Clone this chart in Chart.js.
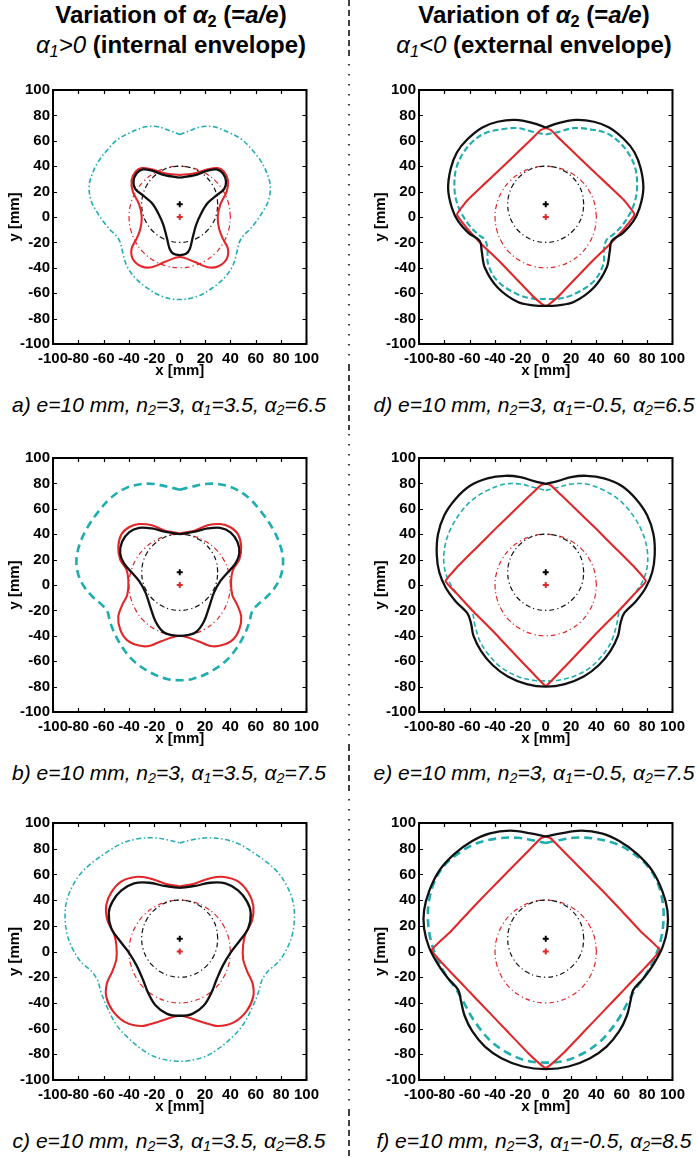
<!DOCTYPE html>
<html>
<head>
<meta charset="utf-8">
<script src="https://cdn.jsdelivr.net/npm/chart.js@4.4.1/dist/chart.umd.min.js"></script>
<style>
  body { margin: 0; background: #fff; }
  #wrap { position: relative; width: 697px; height: 1158px; overflow: hidden; background: #fff; }
  canvas { position: absolute; }
  .title { position: absolute; text-align: center; font: bold 24px "Liberation Sans", Arial, sans-serif; line-height: 30px; color: #000; }
  .title .lt { font-weight: normal; }
  .cap { position: absolute; text-align: center; font: italic 21px "Liberation Sans", Arial, sans-serif; line-height: 24px; color: #000; white-space: nowrap; }
  sub { font-size: 0.68em; vertical-align: -0.22em; line-height: 0; }
  svg { position: absolute; left: 0; top: 0; }
</style>
</head>
<body>
<div id="wrap">
  <div class="title" style="left:0;width:342px;top:0">
    <div>Variation of <i>α</i><sub>2</sub> (=<i>a/e</i>)</div>
    <div><i class="lt">α<sub>1</sub>&gt;0</i> (internal envelope)</div>
  </div>
  <div class="title" style="left:366px;width:336px;top:0">
    <div>Variation of <i>α</i><sub>2</sub> (=<i>a/e</i>)</div>
    <div><i class="lt">α<sub>1</sub>&lt;0</i> (external envelope)</div>
  </div>

  <div class="cap" style="left:0;width:338px;top:393px">a) e=10 mm, n<sub>2</sub>=3, α<sub>1</sub>=3.5, α<sub>2</sub>=6.5</div>
  <div class="cap" style="left:0;width:338px;top:761px">b) e=10 mm, n<sub>2</sub>=3, α<sub>1</sub>=3.5, α<sub>2</sub>=7.5</div>
  <div class="cap" style="left:0;width:338px;top:1129px">c) e=10 mm, n<sub>2</sub>=3, α<sub>1</sub>=3.5, α<sub>2</sub>=8.5</div>
  <div class="cap" style="left:371px;width:326px;top:393px">d) e=10 mm, n<sub>2</sub>=3, α<sub>1</sub>=-0.5, α<sub>2</sub>=6.5</div>
  <div class="cap" style="left:371px;width:326px;top:761px">e) e=10 mm, n<sub>2</sub>=3, α<sub>1</sub>=-0.5, α<sub>2</sub>=7.5</div>
  <div class="cap" style="left:371px;width:326px;top:1129px">f) e=10 mm, n<sub>2</sub>=3, α<sub>1</sub>=-0.5, α<sub>2</sub>=8.5</div>

  <svg width="697" height="1158">
    <g stroke="#000" stroke-width="1.5">
      <line x1="349" y1="0" x2="349" y2="60" stroke-dasharray="6 4"/>
      <line x1="349" y1="64" x2="349" y2="365" stroke-dasharray="1.5 8.5"/>
      <line x1="349" y1="365" x2="349" y2="430" stroke-dasharray="6 4"/>
      <line x1="349" y1="434" x2="349" y2="745" stroke-dasharray="1.5 8.5"/>
      <line x1="349" y1="745" x2="349" y2="795" stroke-dasharray="6 4"/>
      <line x1="349" y1="799" x2="349" y2="1110" stroke-dasharray="1.5 8.5"/>
      <line x1="349" y1="1110" x2="349" y2="1158" stroke-dasharray="6 4"/>
    </g>
  </svg>

  <canvas id="pa"></canvas>
  <canvas id="pb"></canvas>
  <canvas id="pc"></canvas>
  <canvas id="pd"></canvas>
  <canvas id="pe"></canvas>
  <canvas id="pf"></canvas>
</div>

<script>
// tick values on both axes [mm]
const tickValues = [-100, -80, -60, -40, -20, 0, 20, 40, 60, 80, 100];

// centres: wheel centre (0,10) and reference centre (0,0)
const blackCentre = [[0, 10]];
const redCentre = [[0, 0]];

// dash-dot circles, same in all panels
const redCircle = [[40,0],[38.6,10.4],[34.6,20],[28.3,28.3],[20,34.6],[10.4,38.6],[0,40],[-10.4,38.6],[-20,34.6],[-28.3,28.3],[-34.6,20],[-38.6,10.4],[-40,0],[-38.6,-10.4],[-34.6,-20],[-28.3,-28.3],[-20,-34.6],[-10.4,-38.6],[0,-40],[10.4,-38.6],[20,-34.6],[28.3,-28.3],[34.6,-20],[38.6,-10.4],[40,0]];
const blackCircle = [[30,10],[29,17.8],[26,25],[21.2,31.2],[15,36],[7.8,39],[0,40],[-7.8,39],[-15,36],[-21.2,31.2],[-26,25],[-29,17.8],[-30,10],[-29,2.2],[-26,-5],[-21.2,-11.2],[-15,-16],[-7.8,-19],[0,-20],[7.8,-19],[15,-16],[21.2,-11.2],[26,-5],[29,2.2],[30,10]];

// a) alpha1=3.5, alpha2=6.5
const aCyan = [[0,65],[8,68],[17,71],[27,71],[40,66],[49,61],[57,53],[64,44],[69,34],[71.5,24],[70,13],[66,5],[60,-4],[55,-10],[50,-15],[47,-20],[45,-28],[42,-38],[36,-47],[27,-55],[14,-62.5],[0,-65],[-14,-62.5],[-27,-55],[-36,-47],[-42,-38],[-45,-28],[-47,-20],[-50,-15],[-55,-10],[-60,-4],[-66,5],[-70,13],[-71.5,24],[-69,34],[-64,44],[-57,53],[-49,61],[-40,66],[-27,71],[-17,71],[-8,68],[0,65]];
const aRed = [[0,33],[12,34.5],[22,37.5],[30,38.5],[35,35.5],[38,29],[37,20],[32,10],[30,0],[31,-9],[34,-17],[38,-25],[37,-33],[30,-39],[22,-39.5],[12,-35.5],[0,-31.5],[-12,-35.5],[-22,-39.5],[-30,-39],[-37,-33],[-38,-25],[-34,-17],[-31,-9],[-30,0],[-32,10],[-37,20],[-38,29],[-35,35.5],[-30,38.5],[-22,37.5],[-12,34.5],[0,33]];
const aBlack = [[0,31],[12,33],[22,36.5],[29,37.5],[34,34.5],[36.5,28],[35,22],[29,17],[22,11],[17,3],[13,-6],[10,-17],[8,-25],[5,-29],[0,-30],[-5,-29],[-8,-25],[-10,-17],[-13,-6],[-17,3],[-22,11],[-29,17],[-35,22],[-36.5,28],[-34,34.5],[-29,37.5],[-22,36.5],[-12,33],[0,31]];

// b) alpha1=3.5, alpha2=7.5
const bCyan = [[0,75],[10,77.5],[20,79.5],[30,79.5],[42,76.5],[54,69],[64,58],[73,45],[79,32],[81.5,20],[80,8],[75,-2],[68,-10],[61,-16],[57,-21],[55,-29],[51,-39],[44,-51],[35,-61],[22,-69.5],[10,-74],[0,-75],[-10,-74],[-22,-69.5],[-35,-61],[-44,-51],[-51,-39],[-55,-29],[-57,-21],[-61,-16],[-68,-10],[-75,-2],[-80,8],[-81.5,20],[-79,32],[-73,45],[-64,58],[-54,69],[-42,76.5],[-30,79.5],[-20,79.5],[-10,77.5],[0,75]];
const bRed = [[0,40.5],[12,43],[22,47],[32,48],[40,45.5],[46,40],[48.5,30],[47,20],[42,12],[40.5,2],[41.5,-8],[45.5,-16],[48.5,-25],[47,-35],[42,-43],[33,-47.5],[24,-48],[14,-44],[0,-40],[-14,-44],[-24,-48],[-33,-47.5],[-42,-43],[-47,-35],[-48.5,-25],[-45.5,-16],[-41.5,-8],[-40.5,2],[-42,12],[-47,20],[-48.5,30],[-46,40],[-40,45.5],[-32,48],[-22,47],[-12,43],[0,40.5]];
const bBlack = [[0,40],[12,42],[22,44.5],[32,45],[40,41.5],[45.5,34],[47,25],[44,17],[38,10],[32,3],[27,-6],[23,-18],[19,-29],[13,-37],[6,-39.5],[0,-40],[-6,-39.5],[-13,-37],[-19,-29],[-23,-18],[-27,-6],[-32,3],[-38,10],[-44,17],[-47,25],[-45.5,34],[-40,41.5],[-32,45],[-22,44.5],[-12,42],[0,40]];

// c) alpha1=3.5, alpha2=8.5
const cCyan = [[0,84.5],[10,87],[22,88.5],[34,87.5],[46,84],[58,77],[68,70],[77,62],[84,52],[89,40],[90.5,28],[89,14],[85,3],[78,-8],[70,-15],[65,-22],[62,-32],[57,-44],[50,-57],[41,-67],[30,-76],[18,-82.5],[0,-85.5],[-18,-82.5],[-30,-76],[-41,-67],[-50,-57],[-57,-44],[-62,-32],[-65,-22],[-70,-15],[-78,-8],[-85,3],[-89,14],[-90.5,28],[-89,40],[-84,52],[-77,62],[-68,70],[-58,77],[-46,84],[-34,87.5],[-22,88.5],[-10,87],[0,84.5]];
const cRed = [[0,50.5],[12,53],[24,57],[35,58],[46,54.5],[54,46],[58,36],[57,24],[52,14],[50,5],[50,-6],[53,-15],[57.5,-25],[58,-35],[53,-46],[43,-55],[30,-58],[18,-55],[0,-50],[-18,-55],[-30,-58],[-43,-55],[-53,-46],[-58,-35],[-57.5,-25],[-53,-15],[-50,-6],[-50,5],[-52,14],[-57,24],[-58,36],[-54,46],[-46,54.5],[-35,58],[-24,57],[-12,53],[0,50.5]];
const cBlack = [[0,49.5],[12,51],[24,53.5],[36,53],[46,47.5],[53,39],[56,30],[54,18],[47,8],[40,-1],[34,-11],[29,-22],[25,-32],[19,-42],[10,-48.5],[0,-50],[-10,-48.5],[-19,-42],[-25,-32],[-29,-22],[-34,-11],[-40,-1],[-47,8],[-54,18],[-56,30],[-53,39],[-46,47.5],[-36,53],[-24,53.5],[-12,51],[0,49.5]];

// d) alpha1=-0.5, alpha2=6.5
const dCyan = [[0,65],[10,67],[22,70],[35,69],[48,66],[58,59],[66,49],[71,37],[72,22],[70,11],[66,2],[60,-7],[53,-14],[48,-18],[46,-24.5],[45.5,-37],[38,-50.5],[22,-61],[10,-64.3],[0,-64.5],[-10,-64.3],[-22,-61],[-38,-50.5],[-45.5,-37],[-46,-24.5],[-48,-18],[-53,-14],[-60,-7],[-66,2],[-70,11],[-72,22],[-71,37],[-66,49],[-58,59],[-48,66],[-35,69],[-22,70],[-10,67],[0,65]];
const dRed = [[0,70],[4,68.5],[10,62.5],[20,53],[35,38.5],[50,24.5],[62,13],[70,2],[62,-9],[51,-21],[36,-35.5],[22,-50],[10,-62.5],[3,-68.5],[0,-70],[-3,-68.5],[-10,-62.5],[-22,-50],[-36,-35.5],[-51,-21],[-62,-9],[-70,2],[-62,13],[-50,24.5],[-35,38.5],[-20,53],[-10,62.5],[-4,68.5],[0,70]];
const dBlack = [[0,70.5],[10,74],[24,76.5],[38,75],[50,70.5],[62,61],[70,51],[75,38],[77,22],[74,7],[69,-3.5],[61,-12.5],[52,-19],[50.5,-27],[48,-40],[38,-55.5],[22,-67],[10,-69.5],[0,-70],[-10,-69.5],[-22,-67],[-38,-55.5],[-48,-40],[-50.5,-27],[-52,-19],[-61,-12.5],[-69,-3.5],[-74,7],[-77,22],[-75,38],[-70,51],[-62,61],[-50,70.5],[-38,75],[-24,76.5],[-10,74],[0,70.5]];

// e) alpha1=-0.5, alpha2=7.5
const eCyan = [[0,74.5],[10,77],[20,79.5],[32,79.5],[45,75],[58,67],[68,56],[76,42],[80,28],[80,14],[76,2],[69,-8],[62,-15.5],[58,-21],[56,-31],[52,-44],[45,-55],[35,-65],[22,-72],[10,-75],[0,-75.5],[-10,-75],[-22,-72],[-35,-65],[-45,-55],[-52,-44],[-56,-31],[-58,-21],[-62,-15.5],[-69,-8],[-76,2],[-80,14],[-80,28],[-76,42],[-68,56],[-58,67],[-45,75],[-32,79.5],[-20,79.5],[-10,77],[0,74.5]];
const eRed = [[0,80],[4,78.5],[12,71],[25,58.5],[40,44],[55,29],[70,14],[79,3],[70,-7],[56,-22],[40,-38],[25,-54],[12,-67.5],[4,-76],[0,-79.5],[-4,-76],[-12,-67.5],[-25,-54],[-40,-38],[-56,-22],[-70,-7],[-79,3],[-70,14],[-55,29],[-40,44],[-25,58.5],[-12,71],[-4,78.5],[0,80]];
const eBlack = [[0,79.5],[10,82],[20,85],[32,86],[46,84],[60,78],[71,68],[80,55],[85,40],[86,24],[84,10],[79,-2],[71,-13],[62,-22],[59,-30],[57,-40],[51,-52],[42,-63],[30,-72],[15,-78],[0,-80],[-15,-78],[-30,-72],[-42,-63],[-51,-52],[-57,-40],[-59,-30],[-62,-22],[-71,-13],[-79,-2],[-84,10],[-86,24],[-85,40],[-80,55],[-71,68],[-60,78],[-46,84],[-32,86],[-20,85],[-10,82],[0,79.5]];

// f) alpha1=-0.5, alpha2=8.5
const fCyan = [[0,84.5],[10,86.5],[22,88.5],[38,88],[55,84],[68,77],[80,67],[88,54],[92,40],[93,26],[91,10],[86,-5],[79,-18],[71,-29],[65,-39],[59,-50],[52,-60],[43,-70],[30,-79],[15,-85],[0,-86.5],[-15,-85],[-30,-79],[-43,-70],[-52,-60],[-59,-50],[-65,-39],[-71,-29],[-79,-18],[-86,-5],[-91,10],[-93,26],[-92,40],[-88,54],[-80,67],[-68,77],[-55,84],[-38,88],[-22,88.5],[-10,86.5],[0,84.5]];
const fRed = [[0,89.5],[4,88],[14,78],[30,62],[45,47],[60,31.5],[75,15.5],[90,1],[76,-15],[60,-31.5],[45,-47],[30,-62.5],[14,-79],[4,-88],[0,-90.5],[-4,-88],[-14,-79],[-30,-62.5],[-45,-47],[-60,-31.5],[-76,-15],[-90,1],[-75,15.5],[-60,31.5],[-45,47],[-30,62],[-14,78],[-4,88],[0,89.5]];
const fBlack = [[0,89.5],[12,92],[28,94],[44,92],[58,86],[72,76],[84,63],[92,47],[96,32],[96,18],[92,3],[85,-10],[77,-21],[69,-30],[67,-38],[64,-50],[58,-62],[48,-74],[35,-83],[18,-89.5],[0,-91.5],[-18,-89.5],[-35,-83],[-48,-74],[-58,-62],[-64,-50],[-67,-38],[-69,-30],[-77,-21],[-85,-10],[-92,3],[-96,18],[-96,32],[-92,47],[-84,63],[-72,76],[-58,86],[-44,92],[-28,94],[-12,92],[0,89.5]];

const CYAN = '#1fadaf';
const RED = '#e2272b';
const BLACK = '#111111';

Chart.defaults.font.family = '"Liberation Sans Narrow", "Liberation Sans", Arial, sans-serif';
Chart.defaults.color = '#000';

const toXY = pts => pts.map(p => ({ x: p[0], y: p[1] }));

// box round the plot area with inward ticks on all four sides
const framePlugin = {
    id: 'frame',
    afterDatasetsDraw(chart) {
        const { ctx, chartArea: a, scales } = chart;
        ctx.save();
        ctx.strokeStyle = '#000';
        ctx.lineWidth = 1.2;
        ctx.beginPath();
        scales.x.ticks.forEach(t => {
            const px = Math.round(scales.x.getPixelForValue(t.value)) + 0.5;
            ctx.moveTo(px, a.bottom); ctx.lineTo(px, a.bottom - 4);
            ctx.moveTo(px, a.top); ctx.lineTo(px, a.top + 4);
        });
        scales.y.ticks.forEach(t => {
            const py = Math.round(scales.y.getPixelForValue(t.value)) + 0.5;
            ctx.moveTo(a.left, py); ctx.lineTo(a.left + 4, py);
            ctx.moveTo(a.right, py); ctx.lineTo(a.right - 4, py);
        });
        ctx.stroke();
        ctx.lineWidth = 2;
        ctx.strokeRect(a.left, a.top, a.right - a.left, a.bottom - a.top);
        ctx.restore();
    }
};

const panels = [
    { id: 'pa', left: 0,   top: 88,  h: 256, cyan: aCyan, red: aRed, black: aBlack, cw: 1.6, dash: [5, 2.5, 1.5, 2.5], rt: 0.3 },
    { id: 'pb', left: 0,   top: 456, h: 256, cyan: bCyan, red: bRed, black: bBlack, cw: 2.6, dash: [8, 5], rt: 0.3 },
    { id: 'pc', left: 0,   top: 821, h: 259, cyan: cCyan, red: cRed, black: cBlack, cw: 1.5, dash: [5, 2.5, 1.5, 2.5], rt: 0.3 },
    { id: 'pd', left: 366, top: 88,  h: 256, cyan: dCyan, red: dRed, black: dBlack, cw: 2.1, dash: [6, 3], rt: 0.1 },
    { id: 'pe', left: 366, top: 456, h: 256, cyan: eCyan, red: eRed, black: eBlack, cw: 1.6, dash: [5, 3], rt: 0.1 },
    { id: 'pf', left: 366, top: 821, h: 259, cyan: fCyan, red: fRed, black: fBlack, cw: 2.6, dash: [8, 5], rt: 0.1 }
];

const tickFont = { size: 15, weight: 'bold' };

panels.forEach(p => {
    const canvas = document.getElementById(p.id);
    canvas.width = 53 + 257 + 15;
    canvas.height = 10 + p.h + 40;
    canvas.style.left = p.left + 'px';
    canvas.style.top = (p.top - 10) + 'px';

    const line = (data, color, width, dash, tension) => ({
        data: toXY(data), showLine: true, borderColor: color, borderWidth: width,
        borderDash: dash || [], pointRadius: 0, tension: tension, fill: false
    });

    new Chart(canvas, {
        type: 'scatter',
        data: {
            datasets: [
                { data: toXY(blackCentre), pointStyle: 'cross', pointRadius: 3, borderColor: '#000', borderWidth: 2 },
                { data: toXY(redCentre), pointStyle: 'cross', pointRadius: 3, borderColor: RED, borderWidth: 2 },
                line(p.black, BLACK, 2.3, null, 0.35),
                line(p.red, RED, 2.1, null, p.rt),
                line(blackCircle, BLACK, 1.2, [5, 3, 1.2, 3], 0.4),
                line(redCircle, RED, 1.2, [5, 3, 1.2, 3], 0.4),
                line(p.cyan, CYAN, p.cw, p.dash, 0.35)
            ]
        },
        options: {
            responsive: false,
            animation: false,
            events: [],
            layout: { padding: { left: 0, top: 10, right: 15, bottom: 0 } },
            plugins: { legend: { display: false }, tooltip: { enabled: false } },
            scales: {
                x: {
                    type: 'linear', min: -100, max: 100,
                    afterBuildTicks: s => { s.ticks = tickValues.map(v => ({ value: v })); },
                    afterFit: s => { s.height = 40; },
                    grid: { display: false, drawTicks: false },
                    border: { display: false },
                    ticks: { font: tickFont, autoSkip: false, maxRotation: 0, minRotation: 0, padding: 6 },
                    title: { display: true, text: 'x [mm]', font: tickFont, padding: { top: 0, bottom: 4 } }
                },
                y: {
                    type: 'linear', min: -100, max: 100,
                    afterBuildTicks: s => { s.ticks = tickValues.map(v => ({ value: v })); },
                    afterFit: s => { s.width = 53; },
                    grid: { display: false, drawTicks: false },
                    border: { display: false },
                    ticks: { font: tickFont, autoSkip: false, padding: 3 },
                    title: { display: true, text: 'y [mm]', font: tickFont, padding: { top: 6, bottom: 0 } }
                }
            }
        },
        plugins: [framePlugin]
    });
});
</script>
</body>
</html>
